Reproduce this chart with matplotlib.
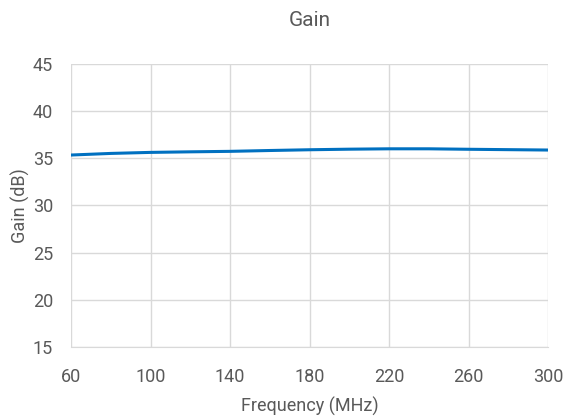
import matplotlib.pyplot as plt

# Gain vs frequency
freq_mhz = [60, 80, 100, 120, 140, 160, 180, 200, 220, 240, 260, 280, 300]
gain_db = [35.35, 35.52, 35.63, 35.69, 35.74, 35.83, 35.91, 35.97, 36.01, 36.01, 35.96, 35.92, 35.88]

plt.rcParams['font.family'] = ['Roboto', 'DejaVu Sans']
grey = '#595959'

fig = plt.figure(figsize=(5.65, 4.19), dpi=100)
ax = fig.add_axes([71 / 565, 1 - 347 / 419, (548 - 71) / 565, (347 - 64) / 419])

ax.plot(freq_mhz, gain_db, color='#0070C0', linewidth=2.2, solid_capstyle='round')

ax.set_xlim(60, 300)
ax.set_ylim(15, 45)
ax.set_xticks(range(60, 301, 40))
ax.set_yticks(range(15, 46, 5))
ax.grid(True, color='#D9D9D9', linewidth=1)
ax.set_axisbelow(True)
for side in ['top', 'right', 'left']:
    ax.spines[side].set_visible(False)
ax.spines['bottom'].set_color('#D9D9D9')
ax.tick_params(length=0, colors=grey, labelsize=13)
ax.tick_params(axis='y', pad=13)
ax.tick_params(axis='x', pad=15)

ax.set_title('Gain', color=grey, fontsize=15, pad=27)
ax.set_xlabel('Frequency (MHz)', color=grey, fontsize=13, labelpad=8)
ax.set_ylabel('Gain (dB)', color=grey, fontsize=13, labelpad=2)

fig.savefig('out.png', dpi=100)
